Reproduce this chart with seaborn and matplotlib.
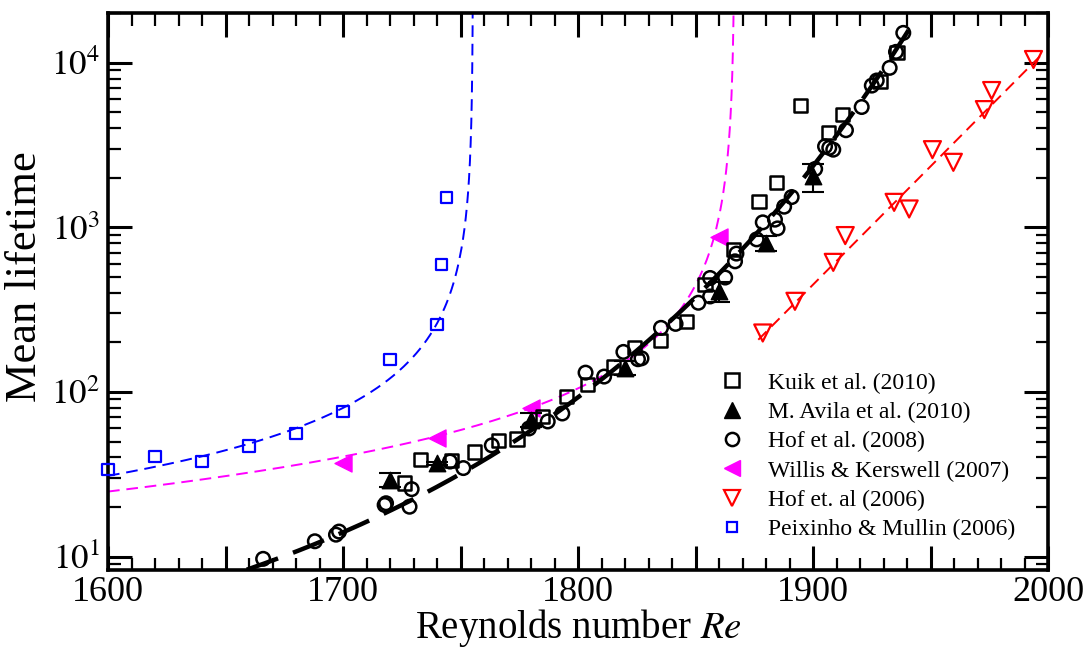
import numpy as np
import pandas as pd
import matplotlib
matplotlib.use("Agg")
import matplotlib.pyplot as plt
from matplotlib.lines import Line2D
from matplotlib.ticker import MultipleLocator, FuncFormatter, LogLocator, NullFormatter
import seaborn as sns

# ---------------- data ----------------
# Kuik et al. (2010)
kuik_re = [1726, 1733, 1746, 1756, 1766, 1774, 1785, 1795, 1804, 1815, 1824, 1835,
           1846, 1854, 1866, 1877, 1884.5, 1894.5, 1906.5, 1912.6, 1928.5, 1935.7]
kuik_t = [28.0, 38.9, 38.5, 43.2, 50.5, 51.8, 71.0, 93.5, 110.7, 141.6, 187, 205,
          268, 451, 731, 1436, 1866, 5480, 3742, 4830, 7693, 11500]

# M. Avila et al. (2010), with error bars
avila_re = [1720, 1740, 1780, 1820, 1860, 1880, 1900]
avila_t = [29.3, 37.0, 67.8, 140, 408, 803, 2037]
avila_err = [2.7, 0.8, 6.6, 14, 55, 85, 400]

# Hof et al. (2008)
hof08_re = [1666, 1688, 1697, 1698.3, 1717.7, 1718.3, 1728.3, 1729.2, 1745.5, 1751.2,
            1763.3, 1779.1, 1787.1, 1793.3, 1803.2, 1811.1, 1819.3, 1825.5, 1827,
            1835.3, 1841.5, 1851.2, 1856.2, 1856.2, 1862.6, 1866.8, 1867.4, 1876,
            1878.6, 1883.8, 1884.9, 1887.7, 1890.9, 1900.9, 1905.1, 1906.9, 1908.6,
            1914, 1920.7, 1925, 1927.1, 1932.6, 1935.3, 1938.4]
hof08_t = [9.7, 12.4, 13.6, 14.2, 20.6, 21.1, 20.1, 25.7, 37.8, 34.5,
           47.4, 60, 66.2, 74, 131, 124, 175, 158, 160,
           245, 259, 348, 492, 380, 495, 621, 692, 844,
           1071, 1112, 984, 1333, 1525, 2259, 3097, 3034, 2958,
           3882, 5370, 7245, 7780, 9285, 11610, 15140]

# Willis & Kerswell (2007)
wk_re = [1700, 1740, 1780, 1860]
wk_t = [37.2, 52.7, 80, 877]

# Hof et al. (2006)
hof06_re = [1878.6, 1892.3, 1908.6, 1913.7, 1934.5, 1940.9, 1950.8, 1959.7,
            1972.9, 1976, 1993.8]
hof06_t = [228, 355, 612, 890, 1416, 1291, 2958, 2478, 5178, 6761, 10430]

# Peixinho & Mullin (2006)
pm_re = [1600, 1620, 1640, 1660, 1680, 1700, 1720, 1740, 1742, 1744]
pm_t = [33.7, 40.4, 37.7, 47, 55.7, 75.8, 157, 256, 593, 1513]

labels = ["Kuik et al. (2010)", "M. Avila et al. (2010)", "Hof et al. (2008)",
          "Willis & Kerswell (2007)", "Hof et. al (2006)", "Peixinho & Mullin (2006)"]

# ---------------- fitted curves ----------------
# super-exponential fit: ln(ln t) = a + b*Re
se_a, se_b = -8.184, 0.005386
se_re = np.linspace(1659, 1943, 300)
se_t = np.exp(np.exp(se_a + se_b * se_re))

# divergent fits: t = A / (Rc - Re)^n
pm_rc, pm_n, pm_ref = 1755.3, 0.92, 80.0      # t(1700) = pm_ref
pm_fit_re = np.concatenate([np.linspace(1600, 1750, 200), np.linspace(1750, 1755.27, 300)])
pm_fit_t = pm_ref * ((pm_rc - 1700) / (pm_rc - pm_fit_re)) ** pm_n

wk_rc, wk_n, wk_ref = 1866.6, 1.04, 80.0      # t(1780) = wk_ref
wk_fit_re = np.concatenate([np.linspace(1600, 1860, 200), np.linspace(1860, 1866.3, 300)])
wk_fit_t = wk_ref * ((wk_rc - 1780) / (wk_rc - wk_fit_re)) ** wk_n

# exponential fit for Hof et al. (2006)
ex_re0, ex_l0, ex_b = 1876.7, 2.317, 0.01436
ex_re = np.linspace(1876.7, 1997.5, 50)
ex_t = 10 ** (ex_l0 + ex_b * (ex_re - ex_re0))

# ---------------- figure ----------------
sns.set_theme(style="ticks")
plt.rcParams['font.family'] = ['Liberation Serif', 'DejaVu Serif']
plt.rcParams['mathtext.fontset'] = 'stix'
plt.rcParams['text.color'] = 'black'
plt.rcParams['axes.labelcolor'] = 'black'
plt.rcParams['xtick.color'] = 'black'
plt.rcParams['ytick.color'] = 'black'

fig = plt.figure(figsize=(10.89, 6.48), dpi=100)
ax = fig.add_axes([0.0992, 0.1204, 0.8632, 0.8596])
ax.set_yscale("log")

# fit lines
thin_dash = [6, 3.5]
sns.lineplot(x=pm_fit_re, y=pm_fit_t, ax=ax, color="#0000ff", lw=1.4,
             sort=False, estimator=None, zorder=2).lines[-1].set_dashes(thin_dash)
sns.lineplot(x=wk_fit_re, y=wk_fit_t, ax=ax, color="#ff00ff", lw=1.4,
             sort=False, estimator=None, zorder=2).lines[-1].set_dashes(thin_dash)
sns.lineplot(x=ex_re, y=ex_t, ax=ax, color="#ff0000", lw=1.4,
             sort=False, estimator=None, zorder=2).lines[-1].set_dashes(thin_dash)
sns.lineplot(x=se_re, y=se_t, ax=ax, color="black", lw=3.2,
             sort=False, estimator=None, zorder=5).lines[-1].set_dashes([7.5, 3.6])

# markers
sns.scatterplot(x=pm_re, y=pm_t, ax=ax, marker="s", s=64, fc="none", ec="#0000ff",
                linewidth=1.6, zorder=3, clip_on=False)
sns.scatterplot(x=hof06_re, y=hof06_t, ax=ax, marker="v", s=150, fc="none", ec="#ff0000",
                linewidth=1.6, zorder=3)
sns.scatterplot(x=wk_re, y=wk_t, ax=ax, marker="<", s=150, fc="#ff00ff", ec="#ff00ff",
                linewidth=1.0, zorder=3)
sns.scatterplot(x=kuik_re, y=kuik_t, ax=ax, marker="s", s=90, fc="none", ec="black",
                linewidth=1.8, zorder=3)
sns.scatterplot(x=hof08_re, y=hof08_t, ax=ax, marker="o", s=95, fc="none", ec="black",
                linewidth=1.8, zorder=4)
ax.errorbar(avila_re, avila_t, yerr=avila_err, fmt="none", ecolor="black",
            elinewidth=1.5, capsize=8, capthick=1.5, zorder=4)
sns.scatterplot(x=avila_re, y=avila_t, ax=ax, marker="^", s=140, fc="black", ec="black",
                linewidth=1.0, zorder=4)

# axes
ax.set_xlim(1600, 2000)
ax.set_ylim(8.3, 20000)
ax.xaxis.set_major_locator(MultipleLocator(50))
ax.xaxis.set_minor_locator(MultipleLocator(10))
ax.xaxis.set_major_formatter(FuncFormatter(lambda v, p: f"{int(round(v))}" if round(v) % 100 == 0 else ""))
ax.yaxis.set_major_locator(LogLocator(base=10, numticks=10))
ax.yaxis.set_minor_locator(LogLocator(base=10, subs=np.arange(2, 10), numticks=20))
ax.yaxis.set_minor_formatter(NullFormatter())
ax.yaxis.set_major_formatter(FuncFormatter(lambda v, p: r"$10^{%d}$" % int(round(np.log10(v)))))

for sp in ax.spines.values():
    sp.set_linewidth(2.6)
    sp.set_color("black")
ax.tick_params(which="major", direction="in", length=17, width=2.2, top=True, right=True,
               pad=6, colors="black")
ax.tick_params(axis="x", which="major", labelsize=26, pad=4)
ax.tick_params(axis="y", which="major", labelsize=25)
ax.tick_params(which="minor", direction="in", length=9, width=1.6, top=True, right=True,
               colors="black")

ax.set_xlabel(r"Reynolds number $\mathit{Re}$", fontsize=28, labelpad=-1)
ax.set_ylabel("Mean lifetime", fontsize=32)
ax.yaxis.set_label_coords(-0.067, 0.526)

handles = [
    Line2D([], [], ls="none", marker="s", ms=9.5, mfc="none", mec="black", mew=1.8),
    Line2D([], [], ls="none", marker="^", ms=12, mfc="black", mec="black"),
    Line2D([], [], ls="none", marker="o", ms=9.5, mfc="none", mec="black", mew=1.8),
    Line2D([], [], ls="none", marker="<", ms=11.5, mfc="#ff00ff", mec="#ff00ff"),
    Line2D([], [], ls="none", marker="v", ms=11.5, mfc="none", mec="#ff0000", mew=1.6),
    Line2D([], [], ls="none", marker="s", ms=7, mfc="none", mec="#0000ff", mew=1.6),
]
ax.legend(handles, labels, loc="upper left", bbox_to_anchor=(0.641, 0.372), frameon=False,
          fontsize=17, handlelength=1.0, handletextpad=1.05, labelspacing=0.33,
          borderaxespad=0)

fig.savefig("out.png", dpi=100)
